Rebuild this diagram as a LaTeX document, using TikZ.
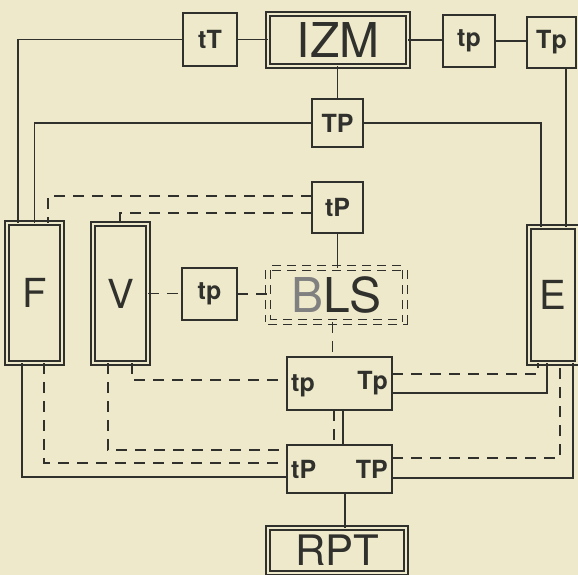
\documentclass[tikz,border=0pt]{standalone}
\usepackage{fontspec}
\setmainfont{TeX Gyre Heros}
\definecolor{bgc}{RGB}{238,233,202}
\definecolor{inkc}{RGB}{48,48,44}
\begin{document}
\begin{tikzpicture}[x=1pt,y=-1pt,
  box/.style={draw=inkc,line width=1.6pt,rectangle,inner sep=0pt,outer sep=0pt,text=inkc},
  dbox/.style={box,double=bgc,double distance=2.6pt,line width=1.4pt},
  conn/.style={draw=inkc,line width=1.5pt},
  dconn/.style={draw=inkc,line width=1.8pt,dash pattern=on 11pt off 8pt},
  small/.style={font=\fontsize{25}{27}\selectfont\bfseries,text=inkc},
  big/.style={font=\fontsize{48}{50}\selectfont,text=inkc},
  mid/.style={font=\fontsize{40}{42}\selectfont,text=inkc}]
\fill[bgc] (0,0) rectangle (578,575);
\useasboundingbox (0,0) rectangle (578,575);
% nodes
\node[box,small,minimum width=54pt,minimum height=53pt] (tT) at (210,39.5) {tT};
\node[dbox,big,minimum width=140pt,minimum height=52pt] (IZM) at (338,40) {IZM};
\node[box,small,minimum width=52pt,minimum height=52pt] (tpA) at (469,41) {tp};
\node[box,small,minimum width=49pt,minimum height=51pt] (TpA) at (551.5,42.5) {Tp};
\node[box,small,minimum width=51pt,minimum height=48pt] (TPa) at (337.5,123) {TP};
\node[box,small,minimum width=51pt,minimum height=51pt] (tPa) at (337.5,207.5) {tP};
\node[dbox,mid,minimum width=55pt,minimum height=140pt] (F) at (34.5,293) {F};
\node[dbox,mid,minimum width=55pt,minimum height=139pt] (V) at (120.5,293.5) {V};
\node[box,small,minimum width=55pt,minimum height=52pt] (tpM) at (209.5,294) {tp};
\node[box,big,dash pattern=on 9pt off 6pt,double=bgc,double distance=4pt,line width=1.4pt,minimum width=137pt,minimum height=54pt] (BLS) at (336.5,295) {\textcolor{gray}{B}LS};
\node[dbox,mid,minimum width=48pt,minimum height=136pt] (E) at (553,295) {E};
\node[box,minimum width=105pt,minimum height=53pt] (tpTp) at (339.5,383.5) {};
\node[small,anchor=west,inner sep=0pt] (tpTpL) at ([xshift=4pt,yshift=-2pt]tpTp.west) {tp};
\node[small,anchor=east,inner sep=0pt] (tpTpR) at ([xshift=-4pt]tpTp.east) {Tp};
\node[box,minimum width=105pt,minimum height=48pt] (tPTP) at (339.5,469) {};
\node[small,anchor=west,inner sep=0pt] (tPTPL) at ([xshift=4pt]tPTP.west) {tP};
\node[small,anchor=east,inner sep=0pt] (tPTPR) at ([xshift=-4pt]tPTP.east) {TP};
\node[dbox,font=\fontsize{42}{44}\selectfont,text=inkc,minimum width=138pt,minimum height=45pt] (RPT) at (337,550.5) {RPT};
% solid connectors
\draw[conn] (tT.west) -| ([xshift=11pt]F.north west);
\draw[conn] (tT.east) -- (tT.east -| IZM.west);
\draw[conn] (IZM.east) -- (IZM.east -| tpA.west);
\draw[conn] (tpA.east) -- (tpA.east -| TpA.west);
\draw[conn] (IZM.south -| TPa.north) -- (TPa.north);
\draw[conn] (TPa.west) -| (F.north);
\draw[conn] (TPa.east) -| ([xshift=12pt]E.north west);
\draw[conn] ([xshift=39pt]TpA.south west) -- ([xshift=39pt]TpA.south west |- E.north);
\draw[conn] (tPa.south) -- (tPa.south |- BLS.north);
\draw[conn] ([xshift=3.5pt]tpTp.south) -- ([xshift=3.5pt]tpTp.south |- tPTP.north);
\draw[conn] ([xshift=5.5pt]tPTP.south) -- ([xshift=5.5pt]tPTP.south |- RPT.north);
\draw[conn] ([xshift=15pt]F.south west) |- ([yshift=-32pt]tPTP.north west);
\draw[conn] ([yshift=-36pt]tpTp.north east) -| ([xshift=18pt]E.south west);
\draw[conn] ([yshift=-33pt]tPTP.north east) -| ([xshift=44pt]E.south west);
% dashed connectors
\draw[dconn] ([yshift=-14pt]tPa.north west) -| ([xshift=41pt]F.north west);
\draw[dconn] ([yshift=-31pt]tPa.north west) -| ([xshift=27pt]V.north west);
\draw[dconn] (V.east) -- (V.east -| tpM.west);
\draw[dconn] (tpM.east) -- (tpM.east -| BLS.west);
\draw[dconn] ([xshift=-4pt]BLS.south) -- ([xshift=-4pt]BLS.south |- tpTp.north);
\draw[dconn] ([xshift=-5.5pt]tpTp.south) -- ([xshift=-5.5pt]tpTp.south |- tPTP.north);
\draw[dconn] ([xshift=15pt]V.south west) |- ([yshift=-5pt]tPTP.north west);
\draw[dconn] ([xshift=39pt]V.south west) |- ([yshift=-23pt]tpTp.north west);
\draw[dconn] ([xshift=37pt]F.south west) |- ([yshift=-18pt]tPTP.north west);
\draw[dconn] ([yshift=-17pt]tpTp.north east) -| ([xshift=9pt]E.south west);
\draw[dconn] ([yshift=-13pt]tPTP.north east) -| ([xshift=31pt]E.south west);
\end{tikzpicture}
\end{document}
